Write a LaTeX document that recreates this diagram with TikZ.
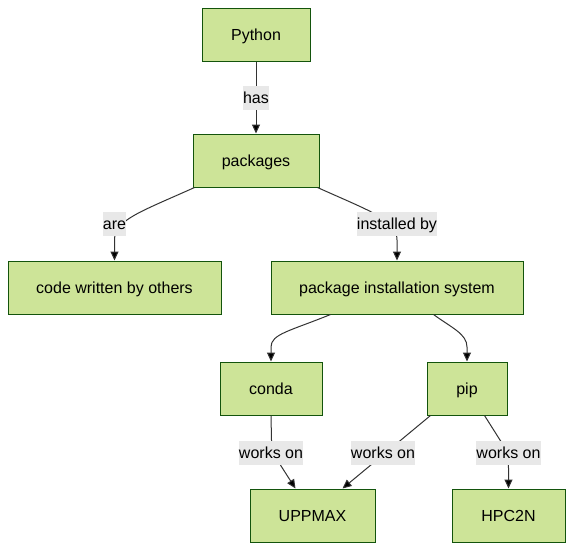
\documentclass[tikz,border=0pt]{standalone}
\usepackage{fontspec}
\setmainfont{Liberation Sans}
\usetikzlibrary{arrows.meta}
\definecolor{nodefill}{HTML}{CDE498}
\definecolor{nodeline}{HTML}{13540C}
\definecolor{edgeline}{HTML}{333333}
\definecolor{lblbg}{HTML}{E8E8E8}
\begin{document}
\begin{tikzpicture}[x=1pt,y=-1pt,
 box/.style={draw=nodeline,fill=nodefill,line width=1pt,minimum height=53pt,inner sep=0pt,text height=15pt,text depth=2.8pt,font=\fontsize{16}{19}\selectfont},
 lbl/.style={fill=lblbg,inner xsep=0pt,inner ysep=3.5pt,text height=14pt,text depth=3pt,font=\fontsize{16}{19}\selectfont},
 edge/.style={draw=edgeline,line width=1pt,-{Triangle[length=9pt,width=8pt,fill=black]}}]
\useasboundingbox (0,0) rectangle (581,558);
\node[box,minimum width=108pt] (python) at (256,34.5) {Python};
\node[box,minimum width=126pt] (packages) at (256,160.5) {packages};
\node[box,minimum width=213pt] (code) at (114.5,287.5) {code written by others};
\node[box,minimum width=252pt] (install) at (397,287.5) {package installation system};
\node[box,minimum width=102pt] (conda) at (271,388.5) {conda};
\node[box,minimum width=80pt] (pip) at (467,388.5) {pip};
\node[box,minimum width=125pt] (uppmax) at (312.5,515.5) {UPPMAX};
\node[box,minimum width=113pt] (hpc) at (508.5,515.5) {HPC2N};

\draw[edge] (python) -- (packages);
\draw[edge] ([xshift=2pt]packages.south west) .. controls (140,212) and (114.5,220) .. (114.5,240) -- (code.north);
\draw[edge] ([xshift=-2pt]packages.south east) .. controls (372,212) and (397,220) .. (397,240) -- (install.north);
\draw[edge] ([xshift=60pt]install.south west) .. controls (290,331) and (271,334) .. (271,347) -- (conda.north);
\draw[edge] ([xshift=-90pt]install.south east) .. controls (452,328) and (467,334) .. (467,347) -- (pip.north);
\draw[edge] (conda.south) -- (271.5,440) .. controls (272,452) .. ([xshift=46pt]uppmax.north west);
\draw[edge] ([xshift=4pt]pip.south west) -- ([xshift=-33pt]uppmax.north east);
\draw[edge] ([xshift=58pt]pip.south west) -- (500,440) .. controls (508,452) .. (508.5,468) -- (hpc.north);

\node[lbl] (l1) at (256,98) {has};
\node[lbl] (l2) at (114.5,223.5) {are};
\node[lbl] (l3) at (397,223.5) {installed by};
\node[lbl] (l4) at (271,452.5) {works on};
\node[lbl] (l5) at (383,452.5) {works on};
\node[lbl] (l6) at (508.5,452.5) {works on};
\end{tikzpicture}
\end{document}
